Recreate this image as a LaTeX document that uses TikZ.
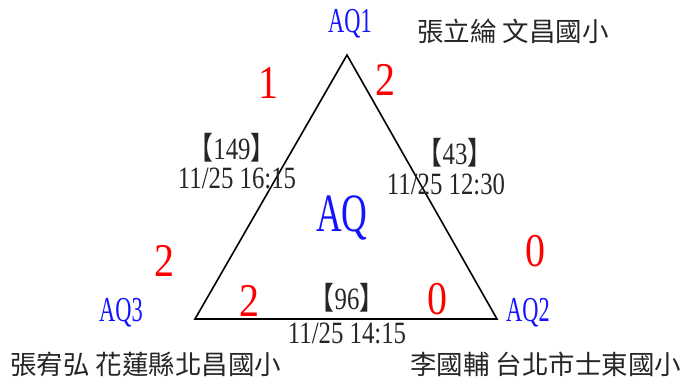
\documentclass[tikz,border=0pt]{standalone}
\usepackage{fontspec}
\setmainfont{Liberation Serif}
\newfontfamily\cjk{Noto Sans CJK TC}
\definecolor{aqblue}{RGB}{20,20,255}
\definecolor{sred}{RGB}{255,0,0}
\newcommand\hsq[2]{\scalebox{#1}[1]{#2}}
\begin{document}
\begin{tikzpicture}[x=1pt,y=-1pt,
  lbl/.style={inner sep=0pt,font=\fontsize{35}{35}\selectfont,text=aqblue},
  bigaq/.style={inner sep=0pt,font=\fontsize{54}{54}\selectfont,text=aqblue},
  score/.style={inner sep=0pt,font=\fontsize{47}{47}\selectfont,text=sred},
  info/.style={inner sep=0pt,font=\fontsize{31}{31}\selectfont,text=black!85,align=center},
  person/.style={inner sep=0pt,font=\cjk\fontsize{26.5}{26.5}\selectfont,text=black!85},
  triline/.style={draw=black,line width=1.6pt,line join=miter}]
\useasboundingbox (0,0) rectangle (686,376);
\coordinate (v1) at (347,55);
\coordinate (v2) at (497,319);
\coordinate (v3) at (195,319);
\draw[triline] (v1) -- (v2) -- (v3) -- cycle;
\node[lbl] (aq1) at (350,24) {\hsq{0.64}{AQ1}};
\node[lbl] (aq2) at (528,313) {\hsq{0.64}{AQ2}};
\node[lbl] (aq3) at (121,313) {\hsq{0.64}{AQ3}};
\node[bigaq] (aq) at (342,218) {\hsq{0.66}{AQ}};
\node[score] (s1) at (268,83) {\hsq{0.85}{1}};
\node[score] (s2) at (385,80) {\hsq{0.85}{2}};
\node[score] (s3) at (164,261) {\hsq{0.85}{2}};
\node[score] (s4) at (535,251) {\hsq{0.85}{0}};
\node[score] (s5) at (249,301) {\hsq{0.85}{2}};
\node[score] (s6) at (437,299) {\hsq{0.85}{0}};
\node[info] (e13a) at (232,148) {\hsq{0.8}{{\cjk\hspace{-0.4em}【}149{\cjk】\hspace{-0.4em}}}};
\node[info] (e13b) at (237,178) {\hsq{0.8}{11/25 16:15}};
\node[info] (e12a) at (455,153) {\hsq{0.8}{{\cjk\hspace{-0.4em}【}43{\cjk】\hspace{-0.4em}}}};
\node[info] (e12b) at (446,184) {\hsq{0.8}{11/25 12:30}};
\node[info] (e23a) at (347,298) {\hsq{0.8}{{\cjk\hspace{-0.4em}【}96{\cjk】\hspace{-0.4em}}}};
\node[info] (e23b) at (347,333) {\hsq{0.8}{11/25 14:15}};
\node[person,anchor=west] (n1) at (417,31) {張立綸 文昌國小};
\node[person,anchor=west] (n3) at (10,364) {張宥弘 花蓮縣北昌國小};
\node[person,anchor=west] (n2) at (410,364) {李國輔 台北市士東國小};
\end{tikzpicture}
\end{document}
